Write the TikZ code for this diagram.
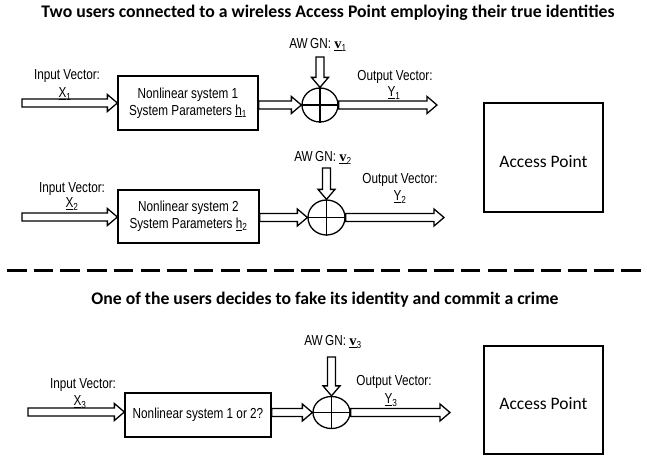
\documentclass[tikz,border=0pt]{standalone}
\usepackage{fontspec}
\setmainfont{Liberation Sans}
\newfontfamily\calfont{Carlito}
\newfontfamily\diafont[FakeStretch=0.81]{Liberation Sans}
\newfontfamily\serfont{Liberation Serif}
\usetikzlibrary{shapes.geometric,calc}

% hollow block arrows: shaft half width, head half width, head length
\def\sw{4pt}
\def\hw{8.5pt}
\def\hl{10pt}

% arrow pointing right, drawn at the height of its start point
\newcommand\rarrow[2]{%
  \draw[hollow] let \p1=(#1), \p2=(#2) in
    (\x1,\y1+\sw) -- (\x2-\hl,\y1+\sw) -- (\x2-\hl,\y1+\hw) -- (\x2,\y1)
    -- (\x2-\hl,\y1-\hw) -- (\x2-\hl,\y1-\sw) -- (\x1,\y1-\sw) -- cycle;}
% arrow pointing down, drawn at the x of its tip
\newcommand\darrow[2]{%
  \draw[hollow] let \p1=(#1), \p2=(#2) in
    (\x2-\sw,\y1) -- (\x2-\sw,\y2+\hl) -- (\x2-\hw,\y2+\hl) -- (\x2,\y2)
    -- (\x2+\hw,\y2+\hl) -- (\x2+\sw,\y2+\hl) -- (\x2+\sw,\y1) -- cycle;}

\newcommand\noise[1]{AW\,GN: \underline{{\serfont\bfseries v}}\textsubscript{#1}}

\tikzset{
  blockbox/.style={draw, line width=1.3pt, inner sep=0pt, align=center,
    font=\diafont\fontsize{14.5}{17}\selectfont},
  summer/.style={draw, ellipse, line width=1.3pt, minimum width=36pt,
    minimum height=34pt, inner sep=0pt},
  crossline/.style={line width=1.1pt},
  hollow/.style={draw, line width=1.3pt, line join=miter, fill=white},
  lbl/.style={inner sep=0pt, font=\diafont\fontsize{14.5}{17}\selectfont},
  title/.style={inner sep=0pt, font=\calfont\bfseries\fontsize{17.7}{20}\selectfont},
  apbox/.style={draw, line width=1.3pt, inner sep=0pt, minimum width=119pt},
  aptext/.style={inner sep=0pt, font=\calfont\fontsize{17.5}{20}\selectfont},
}

\begin{document}
\begin{tikzpicture}[x=1pt, y=-1pt]
\path[use as bounding box] (0,0) rectangle (647,458);

% ---------- titles and separator ----------
\node[title] (t1) at (328,13) {Two users connected to a wireless Access Point employing their true identities};
\node[title] (t2) at (325,300) {One of the users decides to fake its identity and commit a crime};
\coordinate (d1) at (7,270);
\coordinate (d2) at (647,270);
\draw[line width=3pt, dash pattern=on 19.5pt off 7.2pt] (d1) -- (d2);

% ---------- user 1 ----------
\node[blockbox, minimum width=140pt, minimum height=54pt] (b1) at (188,103)
  {Nonlinear system 1\\System Parameters \underline{h}\textsubscript{1}};
\node[summer] (s1) at (320,105) {};
\draw[crossline] (s1.north) -- (s1.south) (s1.west) -- (s1.east);
\coordinate (in1) at (22,103);
\coordinate (n1) at (320,57);
\coordinate (o1) at (437,106);
\rarrow{in1}{b1.west}
\rarrow{b1.east |- s1}{s1.west}
\darrow{n1}{s1.north}
\rarrow{s1.east}{o1}
\node[lbl] (iv1) at (67,76) {Input Vector:};
\node[lbl] (x1) at (65,94) {\underline{X}\textsubscript{1}};
\node[lbl] (aw1) at (318,45) {\noise{1}};
\node[lbl] (ov1) at (395,77) {Output Vector:};
\node[lbl] (y1) at (394,93) {\underline{Y}\textsubscript{1}};

% ---------- user 2 ----------
\node[blockbox, minimum width=141pt, minimum height=53pt] (b2) at (188.5,216.5)
  {Nonlinear system 2\\System Parameters \underline{h}\textsubscript{2}};
\node[summer, minimum width=37pt, minimum height=35pt] (s2) at (326.5,217.5) {};
\draw[crossline] (s2.north) -- (s2.south) (s2.west) -- (s2.east);
\coordinate (in2) at (22,217);
\coordinate (n2) at (326.5,168);
\coordinate (o2) at (444,218);
\rarrow{in2}{b2.west}
\rarrow{b2.east |- s2}{s2.west}
\darrow{n2}{s2.north}
\rarrow{s2.east}{o2}
\node[lbl] (iv2) at (72,189) {Input Vector:};
\node[lbl] (x2) at (72,204) {\underline{X}\textsubscript{2}};
\node[lbl] (aw2) at (323,158) {\noise{2}};
\node[lbl] (ov2) at (400,180) {Output Vector:};
\node[lbl] (y2) at (400,197) {\underline{Y}\textsubscript{2}};

\node[apbox, minimum height=109pt] (ap1) at (543.5,157.5) {};
\node[aptext] (apt1) at (543.5,162) {Access Point};

% ---------- user with a faked identity ----------
\node[blockbox, minimum width=146pt, minimum height=44pt] (b3) at (198,415)
  {Nonlinear system 1 or 2?};
\node[summer, minimum width=37pt, minimum height=32pt] (s3) at (331.5,412.5) {};
\draw[crossline] (s3.north) -- (s3.south) (s3.west) -- (s3.east);
\coordinate (in3) at (28,412);
\coordinate (n3) at (331.5,357);
\coordinate (o3) at (450,413);
\rarrow{in3}{b3.west}
\rarrow{b3.east |- s3}{s3.west}
\darrow{n3}{s3.north}
\rarrow{s3.east}{o3}
\node[lbl] (iv3) at (83,385) {Input Vector:};
\node[lbl] (x3) at (80,402) {\underline{X}\textsubscript{3}};
\node[lbl] (aw3) at (333,342) {\noise{3}};
\node[lbl] (ov3) at (394,382) {Output Vector:};
\node[lbl] (y3) at (391,400) {\underline{Y}\textsubscript{3}};

\node[apbox, minimum height=108pt] (ap2) at (543.5,400) {};
\node[aptext] (apt2) at (543.5,404) {Access Point};
\end{tikzpicture}
\end{document}
